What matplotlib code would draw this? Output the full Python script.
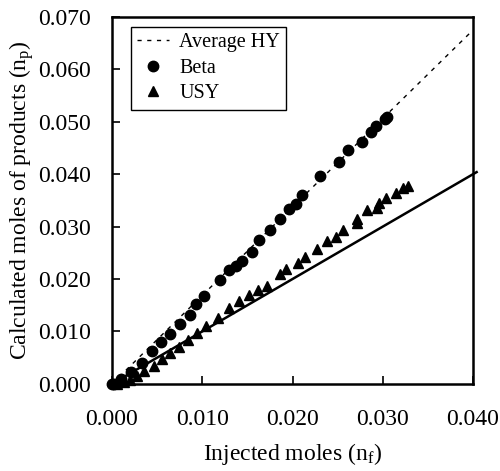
import numpy as np
import matplotlib
matplotlib.use('Agg')
import matplotlib.pyplot as plt

# data
beta_x = [0.0000, 0.0002, 0.0010, 0.0021, 0.0033, 0.0044, 0.0054, 0.0064, 0.0075, 0.0086,
          0.0093, 0.0102, 0.0120, 0.0130, 0.0137, 0.0144, 0.0155, 0.0163, 0.0175, 0.0186,
          0.0196, 0.0204, 0.0210, 0.0231, 0.0252, 0.0262, 0.0277, 0.0287, 0.0293, 0.0303, 0.0305]
beta_y = [0.0000, 0.0000, 0.0010, 0.0023, 0.0040, 0.0062, 0.0080, 0.0096, 0.0114, 0.0131,
          0.0152, 0.0168, 0.0199, 0.0217, 0.0225, 0.0235, 0.0252, 0.0275, 0.0294, 0.0315,
          0.0333, 0.0343, 0.0360, 0.0397, 0.0423, 0.0446, 0.0462, 0.0480, 0.0492, 0.0505, 0.0510]

usy_x = [0.0005, 0.0013, 0.0020, 0.0028, 0.0036, 0.0046, 0.0055, 0.0064, 0.0074, 0.0084,
         0.0094, 0.0104, 0.0118, 0.0130, 0.0141, 0.0152, 0.0162, 0.0172, 0.0186, 0.0193,
         0.0206, 0.0214, 0.0227, 0.0238, 0.0248, 0.0256, 0.0271, 0.0272, 0.0283, 0.0294,
         0.0296, 0.0304, 0.0315, 0.0322, 0.0328]
usy_y = [0.0000, 0.0003, 0.0008, 0.0015, 0.0024, 0.0035, 0.0047, 0.0059, 0.0071, 0.0083,
         0.0097, 0.0111, 0.0126, 0.0144, 0.0158, 0.0170, 0.0180, 0.0187, 0.0210, 0.0219,
         0.0231, 0.0242, 0.0257, 0.0273, 0.0281, 0.0293, 0.0306, 0.0314, 0.0332, 0.0336,
         0.0345, 0.0355, 0.0365, 0.0373, 0.0378]

avg_hy_x = [0.000, 0.040]
avg_hy_y = [0.000, 0.0675]
solid_x = [0.000, 0.0404]
solid_y = [0.000, 0.0404]

x_ticks = [0.000, 0.010, 0.020, 0.030, 0.040]
y_ticks = [0.000, 0.010, 0.020, 0.030, 0.040, 0.050, 0.060, 0.070]

plt.rcParams['font.family'] = ['Liberation Serif', 'DejaVu Serif']
plt.rcParams['mathtext.fontset'] = 'custom'
plt.rcParams['mathtext.rm'] = 'Liberation Serif'
plt.rcParams['mathtext.it'] = 'Liberation Serif:italic'

fig = plt.figure(figsize=(5.0, 4.71), dpi=100)
ax = fig.add_axes([0.224, 0.185, 0.722, 0.779])

ax.plot(avg_hy_x, avg_hy_y, color='black', linestyle=(0, (3, 4)), linewidth=1.0,
        label='Average HY')
ax.plot(solid_x, solid_y, color='black', linestyle='-', linewidth=1.8, clip_on=False)
ax.plot(beta_x, beta_y, 'o', color='black', markersize=7.5, label='Beta', clip_on=False)
ax.plot(usy_x, usy_y, '^', color='black', markersize=7.5, label='USY', clip_on=False)

ax.set_xlim(0, 0.040)
ax.set_ylim(0, 0.070)
ax.set_xticks(x_ticks)
ax.set_yticks(y_ticks)
ax.set_xticklabels(['%.3f' % v for v in x_ticks])
ax.set_yticklabels(['%.3f' % v for v in y_ticks])
ax.tick_params(direction='in', length=6, width=1.2, labelsize=17)
ax.tick_params(axis='x', pad=18)
ax.tick_params(axis='y', pad=15)
for s in ax.spines.values():
    s.set_linewidth(1.8)

ax.set_xlabel('Injected moles (n$_\\mathrm{f}$)', fontsize=17, labelpad=8)
ax.set_ylabel('Calculated moles of products (n$_\\mathrm{p}$)', fontsize=17, labelpad=2)

leg = ax.legend(loc='upper left', bbox_to_anchor=(0.053, 0.973), borderaxespad=0,
                fontsize=14.5, frameon=True, fancybox=False, framealpha=1,
                edgecolor='black', handlelength=1.6, handletextpad=0.5,
                borderpad=0.3, labelspacing=0.33)
leg.get_frame().set_linewidth(1.0)

plt.savefig('out.png', dpi=100)
